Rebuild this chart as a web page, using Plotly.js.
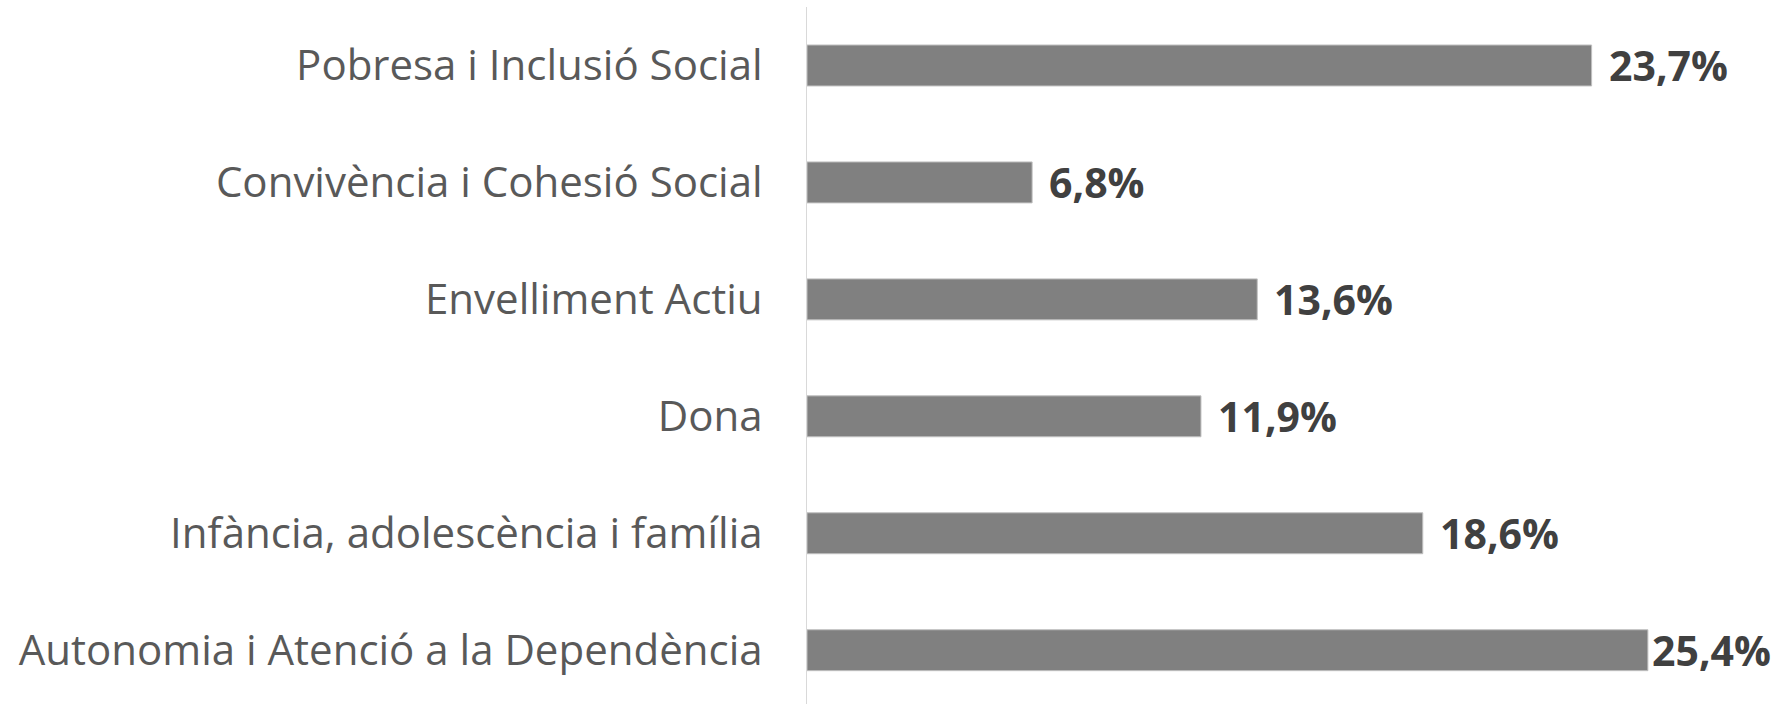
<!DOCTYPE html>
<html>
<head>
<meta charset="utf-8">
<script src="https://cdn.plot.ly/plotly-3.0.1.min.js"></script>
<style>html,body{margin:0;padding:0;background:#fff;}#chart{width:1777px;height:704px;}</style>
</head>
<body>
<div id="chart"></div>
<script>
// Categories from bottom to top
const categories = [
  "Autonomia i Atenció a la Dependència",
  "Infància, adolescència i família",
  "Dona",
  "Envelliment Actiu",
  "Convivència i Cohesió Social",
  "Pobresa i Inclusió Social"
];
const values = [25.4, 18.6, 11.9, 13.6, 6.8, 23.7];
const valueLabels = ["25,4%", "18,6%", "11,9%", "13,6%", "6,8%", "23,7%"];

const trace = {
  type: "bar",
  orientation: "h",
  y: categories,
  x: values,
  width: 0.35,
  marker: {color: "#808080", line: {color: "#bfbfbf", width: 1}},
  hoverinfo: "none"
};

const annotations = categories.map((c, i) => ({
  x: values[i],
  y: c,
  xref: "x",
  yref: "y",
  text: valueLabels[i],
  showarrow: false,
  xanchor: "left",
  yanchor: "middle",
  xshift: i === 0 ? 2 : 15,
  font: {family: "Open Sans, sans-serif", size: 41, color: "#404040", weight: 700}
}));

const layout = {
  width: 1777,
  height: 704,
  margin: {l: 807, r: 0, t: 7, b: 0, pad: 0},
  paper_bgcolor: "#ffffff",
  plot_bgcolor: "#ffffff",
  showlegend: false,
  xaxis: {range: [0, 29.3], showgrid: false, zeroline: false, showticklabels: false, showline: false, fixedrange: true},
  yaxis: {
    type: "category",
    range: [-0.46, 5.5],
    showgrid: false,
    zeroline: false,
    showline: true,
    linecolor: "#d9d9d9",
    linewidth: 1,
    ticks: "",
    ticklabelstandoff: 35,
    tickfont: {family: "Open Sans, sans-serif", size: 42, color: "#595959"},
    automargin: false,
    fixedrange: true
  },
  annotations: annotations
};

Plotly.newPlot("chart", [trace], layout, {displayModeBar: false, staticPlot: true});
</script>
</body>
</html>
